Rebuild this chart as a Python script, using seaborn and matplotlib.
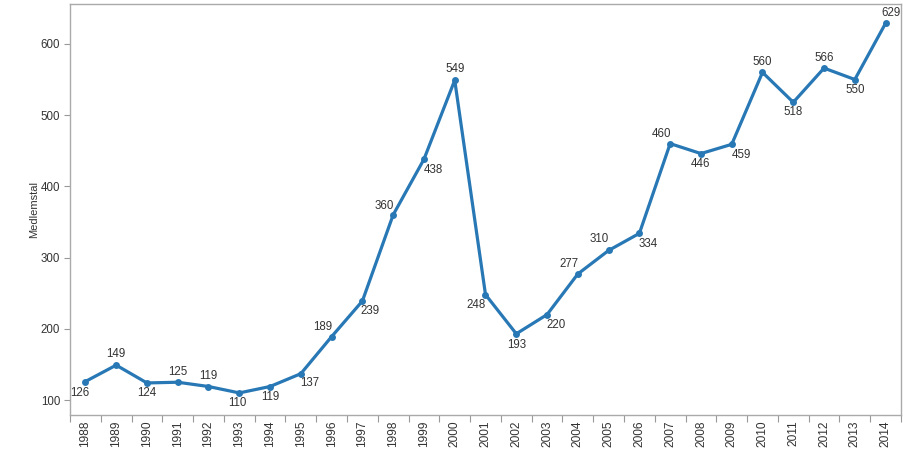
import matplotlib
matplotlib.use("Agg")
import matplotlib.pyplot as plt
import seaborn as sns
import pandas as pd

# --- data ---
years = [1988, 1989, 1990, 1991, 1992, 1993, 1994, 1995, 1996, 1997, 1998, 1999, 2000,
         2001, 2002, 2003, 2004, 2005, 2006, 2007, 2008, 2009, 2010, 2011, 2012, 2013, 2014]
members = [126, 149, 124, 125, 119, 110, 119, 137, 189, 239, 360, 438, 549,
           248, 193, 220, 277, 310, 334, 460, 446, 459, 560, 518, 566, 550, 629]
# label offsets in pixels (dx, dy) so the numbers sit like in the original
label_offsets = [(-6, -11), (0, 11), (0, -10), (0, 10), (0, 11), (-2, -10), (0, -10),
                 (9, -9), (-9, 10), (8, -10), (-9, 9), (9, -11), (0, 11), (-9, -10),
                 (0, -11), (9, -10), (-9, 10), (-9, 11), (9, -11), (-9, 10), (0, -10),
                 (10, -11), (0, 10), (0, -10), (0, 10), (0, -10), (5, 10)]

df = pd.DataFrame({"pos": range(len(years)), "year": years, "Medlemstal": members})

sns.set_style("white")
plt.rcParams["font.family"] = ["Liberation Sans", "DejaVu Sans"]

fig = plt.figure(figsize=(9.04, 4.49), dpi=100)
ax = fig.add_axes([70 / 904, 1 - 415 / 449, 831 / 904, 411 / 449])

line_color = "#2878b5"
sns.lineplot(data=df, x="pos", y="Medlemstal", ax=ax, color=line_color, linewidth=2.3,
             marker="o", markersize=5, markeredgewidth=0)

for i, (v, (dx, dy)) in enumerate(zip(members, label_offsets)):
    ax.annotate(str(v), (i, v), xytext=(dx, dy), textcoords="offset pixels",
                ha="center", va="center", fontsize=8.3, color="#333333")

ax.set_xlim(-0.5, len(years) - 0.5)
ax.set_ylim(79, 656)
ax.set_yticks([100, 200, 300, 400, 500, 600])

# year labels at band centres, tick marks at band boundaries
ax.set_xticks(range(len(years)))
ax.set_xticklabels([str(y) for y in years], rotation=90, fontsize=8.6, color="#333333")
ax.set_xticks([i - 0.5 for i in range(len(years) + 1)], minor=True)
ax.tick_params(axis="x", which="major", length=0, pad=4)
ax.tick_params(axis="x", which="minor", length=5, width=0.8, color="#999999", bottom=True)
ax.tick_params(axis="y", length=4, width=0.8, color="#999999", labelsize=8.3,
               labelcolor="#333333", pad=3, left=True)

ax.set_xlabel("")
ax.set_ylabel("Medlemstal", fontsize=8, color="#333333", labelpad=1)

for s in ax.spines.values():
    s.set_color("#aaaaaa")
    s.set_linewidth(1)

fig.savefig("out.png", dpi=100)
